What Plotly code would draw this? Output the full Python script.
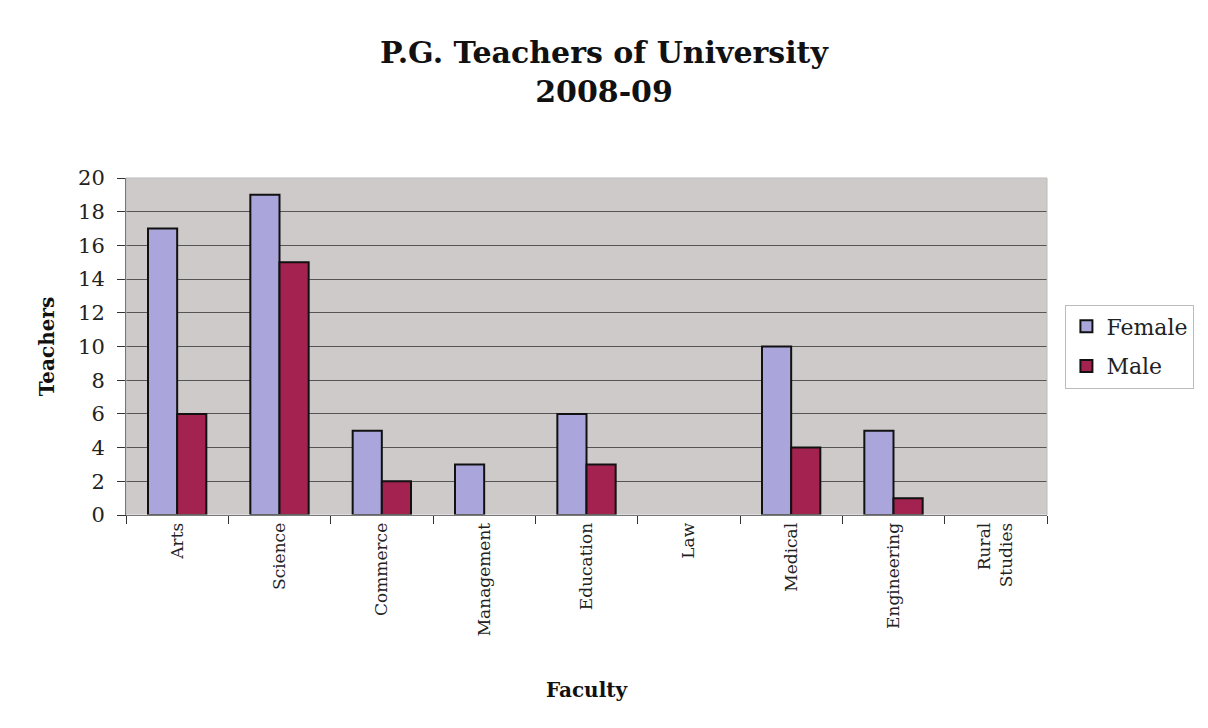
import plotly.graph_objects as go

categories = ["Arts", "Science", "Commerce", "Management", "Education", "Law", "Medical", "Engineering", "Rural<br>Studies"]
female = [17, 19, 5, 3, 6, 0, 10, 5, 0]
male = [6, 15, 2, 0, 3, 0, 4, 1, 0]
y_ticks = [0, 2, 4, 6, 8, 10, 12, 14, 16, 18, 20]

SERIF = "Bookman Old Style, DejaVu Serif, serif"


def edge_widths(vals):
    return [2 if v > 0 else 0 for v in vals]


fig = go.Figure()
fig.add_trace(go.Bar(name="Female", x=categories, y=female, legendgroup="f",
                     marker=dict(color="#aaa6dc", line=dict(color="#111111", width=edge_widths(female)))))
fig.add_trace(go.Bar(name="Male", x=categories, y=male, legendgroup="m",
                     marker=dict(color="#a3224f", line=dict(color="#111111", width=edge_widths(male)))))

fig.update_layout(
    width=1192, height=712,
    barmode="group", bargap=0.43, bargroupgap=0,
    paper_bgcolor="white", plot_bgcolor="#cfcaca",
    margin=dict(l=118, r=153, t=170, b=205, autoexpand=False),
    title=dict(text="<b>P.G. Teachers of University<br>2008-09</b>", x=0.5, xanchor="center",
               y=0.923, yanchor="top",
               font=dict(family=SERIF, size=30, color="#111111")),
    font=dict(family=SERIF, color="#111111"),
    legend=dict(x=1.02, y=0.5, xanchor="left", yanchor="middle",
                bordercolor="#bbbbbb", borderwidth=1, bgcolor="white",
                font=dict(family=SERIF, size=22, color="#222222"),
                tracegroupgap=8, traceorder="grouped"),
    xaxis=dict(tickangle=-90, tickfont=dict(family=SERIF, size=17, color="#222222"),
               showline=True, linecolor="#333333", linewidth=1,
               ticks="outside", ticklen=8, tickcolor="#333333", tickson="boundaries",
               title=dict(text="<b>Faculty</b>", font=dict(family=SERIF, size=20, color="#111111"), standoff=47)),
    yaxis=dict(range=[0, 20], tickvals=y_ticks, tickfont=dict(family=SERIF, size=21, color="#222222"),
               showline=True, linecolor="#333333", linewidth=1,
               ticks="outside", ticklen=8, tickcolor="#333333", ticklabelstandoff=8,
               gridcolor="#555555", gridwidth=1,
               title=dict(text="<b>Teachers</b>", font=dict(family=SERIF, size=20, color="#111111"), standoff=18)),
    shapes=[dict(type="rect", xref="paper", yref="paper", x0=0, x1=1, y0=0, y1=1,
                 line=dict(color="#bbbbbb", width=1), layer="above")],
)

fig.write_html("out.html")
